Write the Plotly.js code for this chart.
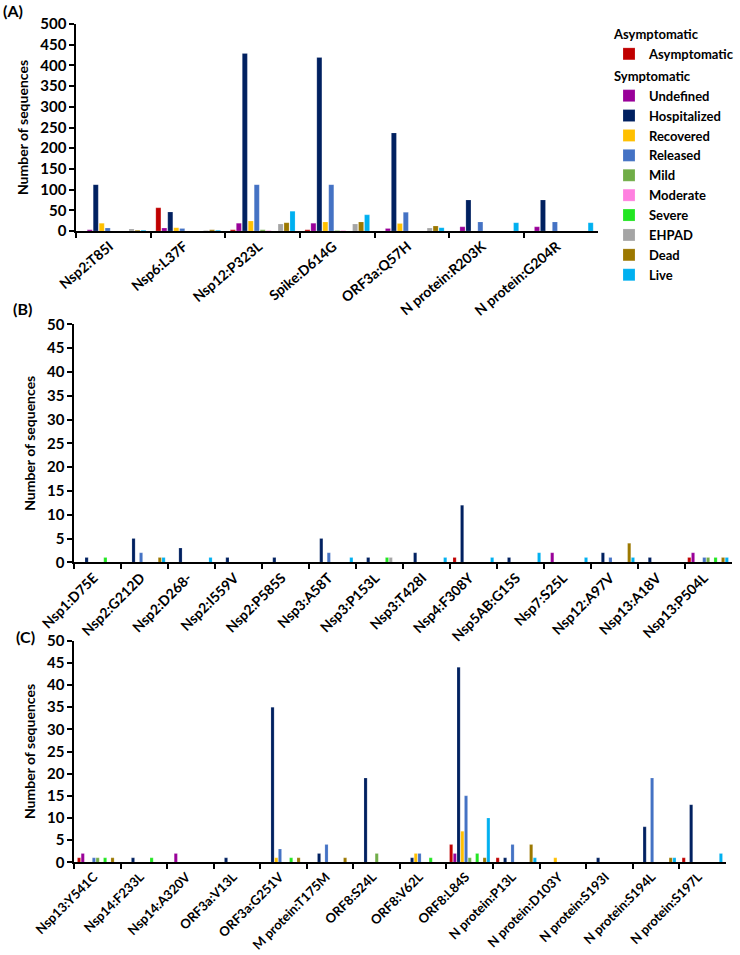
<!DOCTYPE html>
<html>
<head>
<meta charset="utf-8">
<script src="https://cdn.plot.ly/plotly-3.0.1.min.js"></script>
<style>html,body{margin:0;padding:0;background:#fff;}#chart{width:740px;height:955px;}</style>
</head>
<body>
<div id="chart"></div>
<script>
// ---------- DATA ----------
const catsA = ['Nsp2:T85I','Nsp6:L37F','Nsp12:P323L','Spike:D614G','ORF3a:Q57H','N protein:R203K','N protein:G204R'];
const catsB = ['Nsp1:D75E','Nsp2:G212D','Nsp2:D268-','Nsp2:I559V','Nsp2:P585S','Nsp3:A58T','Nsp3:P153L','Nsp3:T428I','Nsp4:F308Y','Nsp5AB:G15S','Nsp7:S25L','Nsp12:A97V','Nsp13:A18V','Nsp13:P504L'];
const catsC = ['Nsp13:Y541C','Nsp14:F233L','Nsp14:A320V','ORF3a:V13L','ORF3a:G251V','M protein:T175M','ORF8:S24L','ORF8:V62L','ORF8:L84S','N protein:P13L','N protein:D103Y','N protein:S193I','N protein:S194L','N protein:S197L'];

const seriesNames = ['Asymptomatic','Undefined','Hospitalized','Recovered','Released','Mild','Moderate','Severe','EHPAD','Dead','Live'];

// Panel A
const asymA   = [0, 56, 3, 3, 0, 0, 0];
const undefA  = [3, 7, 19, 19, 6, 10, 10];
const hospA   = [112, 46, 429, 419, 237, 75, 75];
const recovA  = [19, 8, 24, 22, 18, 0, 0];
const relA    = [7, 6, 112, 112, 45, 22, 22];
const mildA   = [0, 0, 3, 1, 0, 0, 0];
const modA    = [0, 0, 1, 1, 0, 0, 0];
const sevA    = [0, 0, 0, 0, 0, 0, 0];
const ehpadA  = [5, 1, 17, 17, 7, 0, 0];
const deadA   = [2, 3, 20, 22, 12, 0, 0];
const liveA   = [2, 2, 48, 39, 8, 20, 20];

// Panel B
const asymB   = [0,0,0,0,0,0,0,0,1,0,0,0,0,1];
const undefB  = [0,0,0,0,0,0,0,0,0,0,2,0,0,2];
const hospB   = [1,5,3,1,1,5,1,2,12,1,0,2,1,0];
const recovB  = [0,0,0,0,0,0,0,0,0,0,0,0,0,0];
const relB    = [0,2,0,0,0,2,0,0,0,0,0,1,0,1];
const mildB   = [0,0,0,0,0,0,0,0,0,0,0,0,0,1];
const modB    = [0,0,0,0,0,0,0,0,0,0,0,0,0,0];
const sevB    = [1,0,0,0,0,0,1,0,0,0,0,0,0,1];
const ehpadB  = [0,0,0,0,0,0,1,0,0,0,0,0,0,0];
const deadB   = [0,1,0,0,0,0,0,0,0,0,0,4,0,1];
const liveB   = [0,1,1,0,0,1,0,1,1,2,1,1,0,1];

// Panel C
const asymC   = [1,0,0,0,0,0,0,0,4,1,0,0,0,1];
const undefC  = [2,0,2,0,0,0,0,0,2,0,0,0,0,0];
const hospC   = [0,1,0,1,35,2,19,1,44,1,0,1,8,13];
const recovC  = [0,0,0,0,1,0,0,2,7,0,1,0,0,0];
const relC    = [1,0,0,0,3,4,0,2,15,4,0,0,19,0];
const mildC   = [1,0,0,0,0,0,2,0,1,0,0,0,0,0];
const modC    = [0,0,0,0,0,0,0,0,0,0,0,0,0,0];
const sevC    = [1,1,0,0,1,0,0,1,2,0,0,0,0,0];
const ehpadC  = [0,0,0,0,0,0,0,0,0,0,0,0,0,0];
const deadC   = [1,0,0,0,1,1,0,0,1,4,0,0,1,0];
const liveC   = [0,0,0,0,0,0,0,0,10,1,0,0,1,2];

// ---------- STYLE ----------
const colors = ['#C00000','#990099','#002060','#FFC000','#4472C4','#70AD47','#FF80E0','#22E622','#A5A5A5','#9C7800','#00B0F0'];
const valsA = [asymA, undefA, hospA, recovA, relA, mildA, modA, sevA, ehpadA, deadA, liveA];
const valsB = [asymB, undefB, hospB, recovB, relB, mildB, modB, sevB, ehpadB, deadB, liveB];
const valsC = [asymC, undefC, hospC, recovC, relC, mildC, modC, sevC, ehpadC, deadC, liveC];

const FONT = 'Lato, "Open Sans", sans-serif';
const W = 740, H = 955;
const px = v => v / W;
const py = v => 1 - v / H;

const traces = [];
const panels = [
  {cats: catsA, vals: valsA, xa: 'x', ya: 'y', legend: true},
  {cats: catsB, vals: valsB, xa: 'x2', ya: 'y2', legend: false},
  {cats: catsC, vals: valsC, xa: 'x3', ya: 'y3', legend: false}
];
panels.forEach(p => {
  seriesNames.forEach((name, i) => {
    const grp = i === 0 ? 'Asymptomatic' : 'Symptomatic';
    traces.push({
      type: 'bar',
      name: name,
      x: p.cats,
      y: p.vals[i],
      xaxis: p.xa,
      yaxis: p.ya,
      marker: {color: colors[i], line: {color: 'rgba(255,255,255,0.35)', width: 0.5}},
      legendgroup: grp,
      legendgrouptitle: {text: grp, font: {family: FONT, size: 13, color: '#000', weight: 'bold'}},
      showlegend: p.legend,
      hoverinfo: 'x+y+name'
    });
  });
});

function xAxis(dom, anchor, ang, fs) {
  return {
    domain: dom, anchor: anchor, type: 'category',
    tickson: 'boundaries', ticks: 'outside', ticklen: 5, tickwidth: 1.5, tickcolor: '#000',
    tickangle: ang, ticklabelshift: -4, showline: true, linewidth: 2, linecolor: '#000',
    showgrid: false, zeroline: false,
    tickfont: {family: FONT, size: fs, color: '#000', weight: 'bold'}
  };
}
function yAxis(dom, anchor, max, dt) {
  return {
    domain: dom, anchor: anchor, range: [0, max], dtick: dt, tick0: 0,
    ticks: 'outside', ticklen: 5, tickwidth: 1.5, tickcolor: '#000',
    showline: true, linewidth: 2, linecolor: '#000', showgrid: false, zeroline: false,
    tickfont: {family: FONT, size: 15, color: '#000', weight: 'bold'},
    title: {text: 'Number of sequences', font: {family: FONT, size: 14, color: '#000', weight: 'bold'}, standoff: 8}
  };
}

const layout = {
  width: W, height: H,
  margin: {l: 0, r: 0, t: 0, b: 0},
  paper_bgcolor: '#fff', plot_bgcolor: '#fff',
  barmode: 'group', bargap: 0.12, bargroupgap: 0.15,
  font: {family: FONT, color: '#000'},
  xaxis:  xAxis([px(77), px(603)], 'y', -40, 14),
  yaxis:  yAxis([py(231), py(24)], 'x', 500, 50),
  xaxis2: xAxis([px(75), px(737.5)], 'y2', -45, 14),
  yaxis2: yAxis([py(562.3), py(324.3)], 'x2', 50, 5),
  xaxis3: xAxis([px(75), px(731.5)], 'y3', -45, 13),
  yaxis3: yAxis([py(862.3), py(640.7)], 'x3', 50, 5),
  legend: {
    x: px(614), y: py(19), xanchor: 'left', yanchor: 'top',
    traceorder: 'grouped', tracegroupgap: 2, itemwidth: 30,
    font: {family: FONT, size: 13, color: '#000', weight: 'bold'},
    bgcolor: 'rgba(0,0,0,0)'
  },
  annotations: [
    {text: '(A)', x: px(1), y: py(10), xref: 'paper', yref: 'paper', xanchor: 'left', yanchor: 'middle', showarrow: false, font: {family: FONT, size: 16, color: '#000', weight: 'bold'}},
    {text: '(B)', x: px(11), y: py(308), xref: 'paper', yref: 'paper', xanchor: 'left', yanchor: 'middle', showarrow: false, font: {family: FONT, size: 16, color: '#000', weight: 'bold'}},
    {text: '(C)', x: px(14), y: py(636), xref: 'paper', yref: 'paper', xanchor: 'left', yanchor: 'middle', showarrow: false, font: {family: FONT, size: 16, color: '#000', weight: 'bold'}}
  ]
};

Plotly.newPlot('chart', traces, layout, {displayModeBar: false});
</script>
</body>
</html>
